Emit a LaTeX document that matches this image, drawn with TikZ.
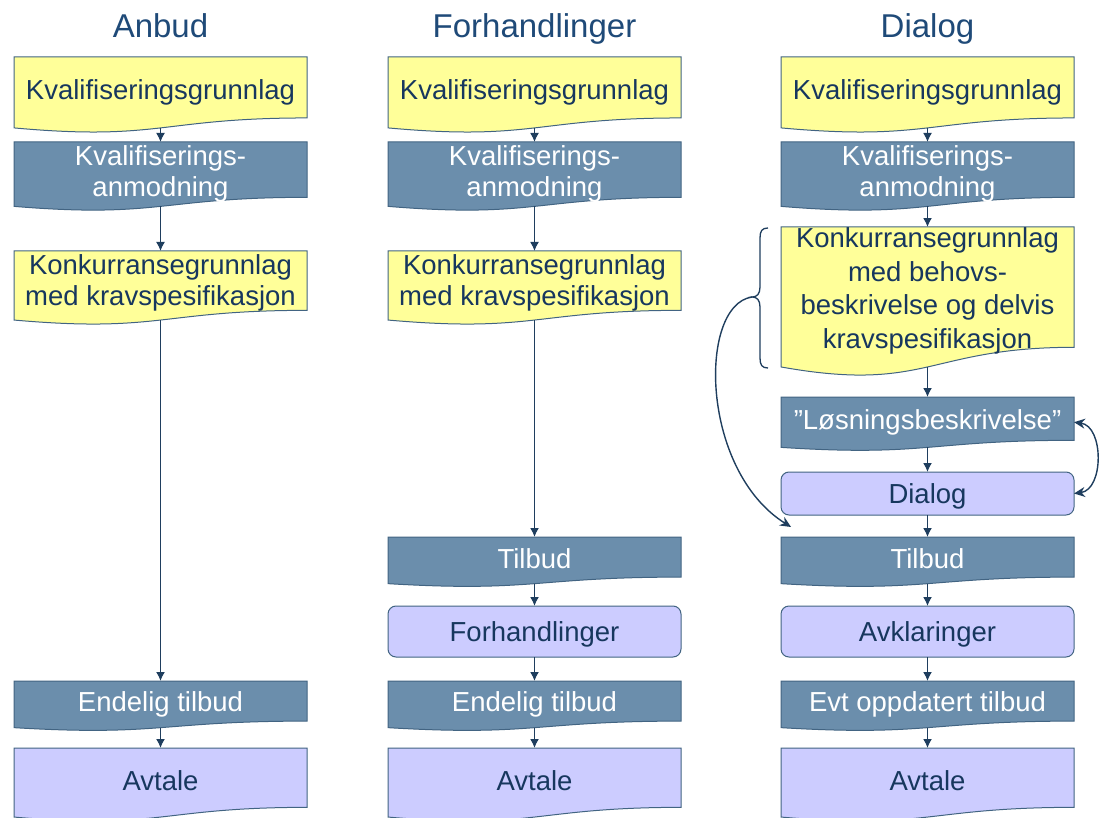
\documentclass[tikz,border=0pt]{standalone}
\usepackage{fontspec}
\setmainfont{Liberation Sans}
\usetikzlibrary{arrows.meta}
\definecolor{navy}{HTML}{17375E}
\definecolor{titleblue}{HTML}{1F4A78}
\definecolor{docyellow}{HTML}{FFFF99}
\definecolor{steel}{HTML}{6B8EAC}
\definecolor{lav}{HTML}{CCCCFF}
\definecolor{edge}{HTML}{426482}
\definecolor{arrowc}{HTML}{1F3E5E}

\tikzset{
 ydoc/.style={fill=docyellow, draw=edge, line width=1pt},
 sdoc/.style={fill=steel, draw=edge, line width=1pt},
 ldoc/.style={fill=lav, draw=edge, line width=1pt},
 area/.style={inner sep=0pt, outer sep=0pt, draw=none, fill=none},
 dtxt/.style={text=navy, align=center, font=\fontsize{27.5}{31}\selectfont, inner sep=0pt},
 wtxt/.style={dtxt, text=white},
 rbox/.style={fill=lav, draw=edge, line width=1pt, rounded corners=8pt, minimum width=293pt, inner sep=0pt, outer sep=0pt, text=navy, font=\fontsize{27.5}{31}\selectfont, text height=20pt, text depth=0pt},
 flow/.style={draw=arrowc, line width=1.5pt, -{Latex[length=9pt,width=9pt]}},
 curvy/.style={draw=arrowc, line width=1.4pt, -{Stealth[length=11pt,width=10pt]}},
 loopy/.style={draw=arrowc, line width=1.4pt, {Stealth[length=11pt,width=10pt]}-{Stealth[length=11pt,width=10pt]}},
 bracestyle/.style={draw=arrowc, line width=1.3pt},
 title/.style={text=titleblue, font=\fontsize{33}{36}\selectfont, anchor=base, inner sep=0pt},
}

% #1 name, #2 style, #3 x1, #4 top, #5 x2, #6 height
\newcommand{\docbox}[6]{%
 \path[#2] (#3,#4) -- (#5,#4) -- (#5,{#4+0.802*#6})
   .. controls ({(#3+#5)/2},{#4+0.802*#6}) and ({(#3+#5)/2},{#4+1.108*#6}) ..
   (#3,{#4+0.933*#6}) -- cycle;
 \node[area, minimum width={#5-#3}, minimum height={0.933*#6}] (#1) at ({(#3+#5)/2},{#4+0.4665*#6}) {};
}

\begin{document}
\begin{tikzpicture}[x=1pt,y=-1pt]
\useasboundingbox (0,0) rectangle (1100,818);
\begin{scope}
\clip (0,0) rectangle (1100,818);

% titles
\node[title] (t1) at (160.5,38) {Anbud};
\node[title] (t2) at (534.5,38) {Forhandlinger};
\node[title] (t3) at (927.5,38) {Dialog};

% ---------- column 1 ----------
\docbox{a1}{ydoc}{14}{57}{307}{76}
\node[dtxt] (a1t) at (160.5,92) {Kvalifiseringsgrunnlag};
\docbox{a2}{sdoc}{14}{142}{307}{69}
\node[wtxt] (a2t) at (160.5,174) {Kvalifiserings-\\anmodning};
\docbox{a3}{ydoc}{14}{251}{307}{74}
\node[dtxt] (a3t) at (160.5,283) {Konkurransegrunnlag\\med kravspesifikasjon};
\docbox{a4}{sdoc}{14}{681}{307}{50}
\node[wtxt] (a4t) at (160.5,704) {Endelig tilbud};
\docbox{a5}{ldoc}{14}{748}{307}{74}
\node[dtxt] (a5t) at (160.5,781) {Avtale};

% ---------- column 2 ----------
\docbox{b1}{ydoc}{388}{57}{681}{76}
\node[dtxt] (b1t) at (534.5,92) {Kvalifiseringsgrunnlag};
\docbox{b2}{sdoc}{388}{142}{681}{69}
\node[wtxt] (b2t) at (534.5,174) {Kvalifiserings-\\anmodning};
\docbox{b3}{ydoc}{388}{251}{681}{74}
\node[dtxt] (b3t) at (534.5,283) {Konkurransegrunnlag\\med kravspesifikasjon};
\docbox{b4}{sdoc}{388}{537}{681}{50}
\node[wtxt] (b4t) at (534.5,559) {Tilbud};
\node[rbox, minimum height=51pt] (b5) at (534.5,631.5) {Forhandlinger};
\docbox{b6}{sdoc}{388}{681}{681}{50}
\node[wtxt] (b6t) at (534.5,704) {Endelig tilbud};
\docbox{b7}{ldoc}{388}{748}{681}{74}
\node[dtxt] (b7t) at (534.5,781) {Avtale};

% ---------- column 3 ----------
\docbox{c1}{ydoc}{781}{57}{1074}{76}
\node[dtxt] (c1t) at (927.5,92) {Kvalifiseringsgrunnlag};
\docbox{c2}{sdoc}{781}{142}{1074}{69}
\node[wtxt] (c2t) at (927.5,174) {Kvalifiserings-\\anmodning};
\docbox{c3}{ydoc}{781}{227}{1074}{150}
\node[dtxt, font=\fontsize{27.5}{33.5}\selectfont] (c3t) at (927.5,291) {Konkurransegrunnlag\\med behovs-\\beskrivelse og delvis\\kravspesifikasjon};
\docbox{c4}{sdoc}{781}{397}{1074}{54}
\node[wtxt] (c4t) at (927.5,422) {”Løsningsbeskrivelse”};
\node[rbox, minimum height=43pt] (c5) at (927.5,493.5) {Dialog};
\docbox{c6}{sdoc}{781}{537}{1074}{50}
\node[wtxt] (c6t) at (927.5,559) {Tilbud};
\node[rbox, minimum height=51pt] (c7) at (927.5,631.5) {Avklaringer};
\docbox{c8}{sdoc}{781}{681}{1074}{50}
\node[wtxt] (c8t) at (927.5,704) {Evt oppdatert tilbud};
\docbox{c9}{ldoc}{781}{748}{1074}{74}
\node[dtxt] (c9t) at (927.5,781) {Avtale};

% ---------- connectors ----------
\draw[flow] (a1.south) -- (a2.north);
\draw[flow] (a2.south) -- (a3.north);
\draw[flow] (a3.south) -- (a4.north);
\draw[flow] (a4.south) -- (a5.north);

\draw[flow] (b1.south) -- (b2.north);
\draw[flow] (b2.south) -- (b3.north);
\draw[flow] (b3.south) -- (b4.north);
\draw[flow] (b4.south) -- (b5.north);
\draw[flow] (b5.south) -- (b6.north);
\draw[flow] (b6.south) -- (b7.north);

\draw[flow] (c1.south) -- (c2.north);
\draw[flow] (c2.south) -- (c3.north);
\draw[flow] (c3.south) -- (c4.north);
\draw[flow] (c4.south) -- (c5.north);
\draw[flow] (c5.south) -- (c6.north);
\draw[flow] (c6.south) -- (c7.north);
\draw[flow] (c7.south) -- (c8.north);
\draw[flow] (c8.south) -- (c9.north);

% brace and curved arrows
\coordinate (btip) at (752,297);
\coordinate (cend) at (791,527);
\draw[bracestyle] (768,228) .. controls (762,228) and (760,231) .. (760,238) -- (760,287)
  .. controls (760,294) and (757,297) .. (btip)
  .. controls (757,297) and (760,300) .. (760,307) -- (760,358)
  .. controls (760,365) and (762,368) .. (768,368);
\draw[curvy] (btip) .. controls (698,305) and (700,470) .. (cend);
\draw[loopy] (c4.east) .. controls +(30,4) and +(30,-4) .. (c5.east);
\end{scope}
\end{tikzpicture}
\end{document}
